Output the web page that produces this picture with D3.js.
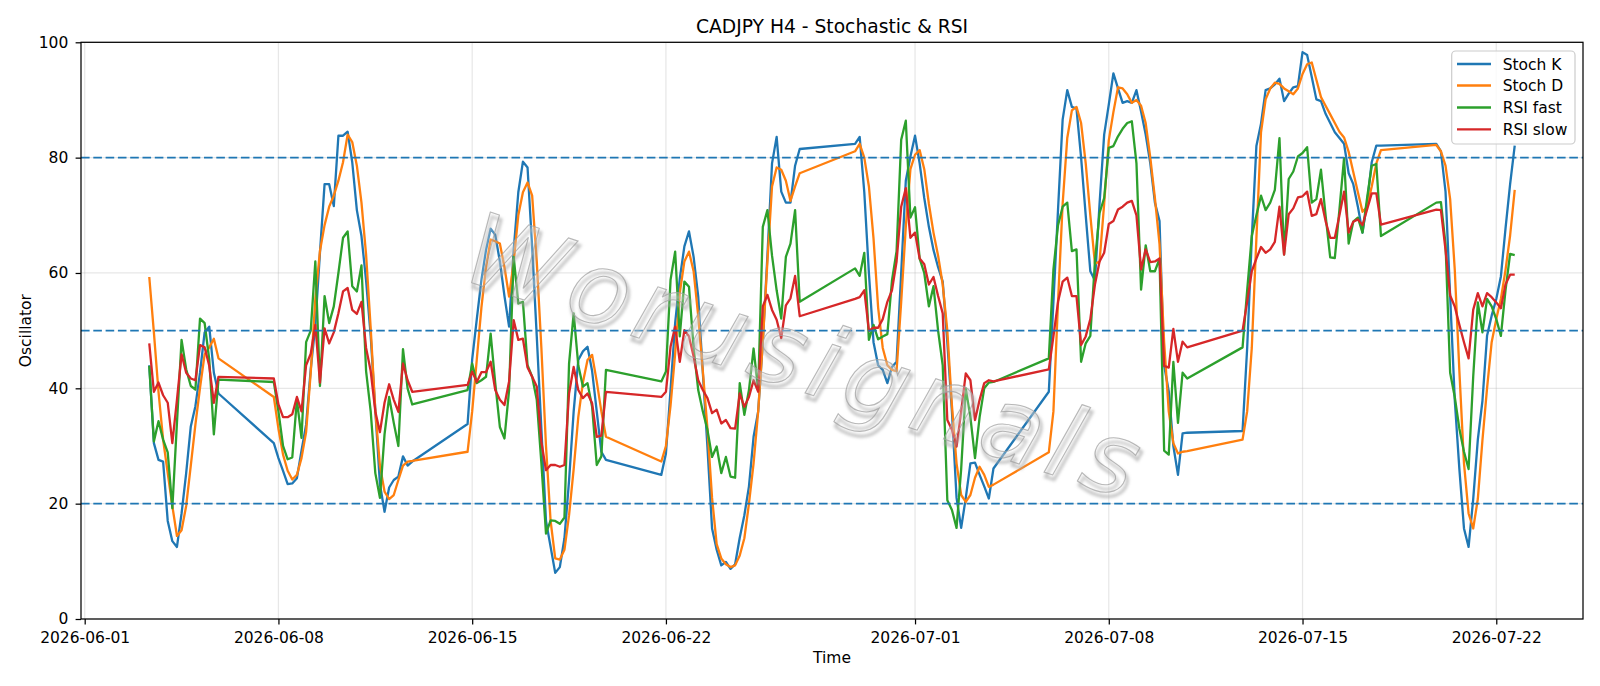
<!DOCTYPE html>
<html>
<head>
<meta charset="utf-8">
<script src="https://cdn.jsdelivr.net/npm/d3@7"></script>
<style>
  html, body { margin: 0; padding: 0; background: #fff; }
  svg { display: block; font-family: "DejaVu Sans", sans-serif; }
</style>
</head>
<body>
<script>
// H4 trading sessions: first bar of each block, number of bars (weekends skipped)
var sessions = [
    ["2026-06-03T08:00:00Z", 16],
    ["2026-06-07T20:00:00Z", 31],
    ["2026-06-14T20:00:00Z", 31],
    ["2026-06-21T20:00:00Z", 31],
    ["2026-06-28T20:00:00Z", 31],
    ["2026-07-05T20:00:00Z", 31],
    ["2026-07-12T20:00:00Z", 31],
    ["2026-07-19T20:00:00Z", 18]
];

var stochK = [
    44, 30.5, 27.6, 27.3, 17.0, 13.5, 12.5, 18.3, 25.3, 33.4, 36.9, 42.7, 49.7, 50.7, 42.7, 39.1,
    30.5, 27.9, 25.7, 23.4, 23.5, 24.4, 29.2, 33.7, 43.3, 51.0, 63.5, 75.4, 75.4, 71.6, 83.8, 83.8, 84.5, 79.2, 70.9, 66.4, 58.7, 49.1, 36.2, 23.4, 18.6, 22.8, 24.1, 24.7, 28.2, 26.6, 27.3,
    33.8, 45, 52, 58.8, 64, 67.7, 66.6, 62, 56, 50.7, 64, 74, 79.3, 78.3, 64.5, 49, 33, 17, 12.5, 8, 9, 14, 24, 36, 44.9, 46.4, 47.2, 43, 36, 29, 27.6,
    25, 28.7, 39.7, 51.3, 59, 64.6, 67.2, 62.8, 55.9, 42.7, 29.8, 15.7, 12, 9.3, 9.9, 8.7, 9.5, 14.1, 18, 23, 31.6, 36, 48, 63, 79, 83.6, 74.1, 72.2, 72.2, 78.6, 81.5,
    82.4, 83.6, 74, 60, 48, 44, 43.2, 40.9, 43.7, 44.6, 60, 76, 80.2, 83.8, 79, 73, 68, 64, 61, 58.5, 48, 36, 21, 15.8, 21, 27, 27.1, 25, 23, 20.9, 26.1,
    39.4, 55, 71, 86.6, 91.7, 88.8, 88.5, 80, 70, 60.3, 58.7, 72, 84, 89.2, 94.6, 92.0, 89.5, 89.8, 89.5, 91.7, 88, 84, 79, 72.2, 69, 44, 39.5, 30, 25, 32.2, 32.3,
    32.6, 47, 66, 82, 85.9, 91.7, 92, 92.7, 93.7, 89.8, 91.1, 92.2, 92.4, 98.3, 97.8, 94, 90.1, 89.8, 87.6, 86, 84.4, 83.4, 82.4, 77.3, 75.4, 71.5, 67, 72.2, 79.2, 82.1, 82.1,
    82.4, 81.1, 74.1, 56, 38, 26, 15.7, 12.5, 20.8, 31.1, 37.8, 49.1, 52.6, 55.5, 59.4, 67.7, 75.4, 82.1
];

var stochD = [
    59.3, 49.7, 39.4, 31.1, 25.3, 19.6, 14.4, 15.4, 19.6, 26.6, 33.7, 40.1, 45.9, 47.1, 48.6, 45.2,
    38.5, 33.0, 28.5, 25.7, 24.2, 25.0, 27.9, 32.4, 42.7, 55.5, 63.8, 68.3, 71.5, 73.4, 76.0, 79.2, 84.0, 82.7, 78.6, 72.2, 63.2, 50.4, 36.2, 26.6, 22.1, 20.8, 21.5, 24.1, 26.6, 27.3, 27.4,
    29.0, 36, 45, 54, 61, 65.8, 65.5, 65.1, 61, 55.9, 62, 70, 74, 75.7, 73.4, 62, 47, 30, 17, 10.5, 10.3, 12, 18, 26, 35, 41, 44.9, 45.8, 41.2, 36, 31.6,
    27.3, 30, 37, 46, 56.5, 62, 63.7, 60.3, 52.5, 43, 33, 21, 13, 10.5, 9.5, 9.0, 9.3, 11, 14, 20, 27, 36, 48, 62, 75, 78.3, 77.9, 76, 72.5, 75, 77.3,
    81.1, 82.4, 80, 75, 66, 54, 47, 44, 43.2, 43, 55, 68, 78, 80.5, 81.3, 78, 72, 67, 63, 58, 50, 37, 27, 21.5, 20.3, 21.5, 24.5, 26.4, 25, 22.9, 23.3,
    28.9, 36, 55, 72, 83.4, 88.2, 88.8, 86, 79, 70, 61.6, 62, 72, 83, 87.9, 92.2, 92, 91, 89.5, 90, 89, 86, 80, 73, 65, 48, 36, 30.5, 28.7, 29, 29.1,
    31.1, 36, 47, 66, 84.4, 90.1, 92, 93, 92.8, 92, 91.5, 91, 92, 94.5, 96.2, 96.5, 93.5, 90.5, 89, 87.5, 86, 84.5, 83.5, 81, 77.5, 74, 70.6, 71.5, 75, 79, 81.3,
    82.2, 81.1, 78.6, 72.8, 60.6, 43, 27, 18.3, 15.7, 20.8, 31, 40, 48, 52, 55.5, 60.5, 66.5, 74.4
];

var rsiFast = [
    43.9, 30.8, 34.3, 31.1, 28.9, 19.2, 34, 48.4, 43.3, 40.4, 39.8, 52.1, 51.3, 45, 32, 41.5,
    41.1, 36, 30, 27.7, 28, 38, 31.4, 48, 50, 62, 40.4, 56, 51.3, 54.2, 60, 66.1, 67.2, 57.7, 56.8, 61.3, 43, 36, 25.3, 21, 32, 38.5, 34, 30, 46.8, 40, 37.2,
    39.7, 44.3, 40.9, 41.4, 42, 49.5, 40.9, 33.3, 31.3, 39.7, 62.8, 54.7, 55, 44, 42, 38, 27, 14.8, 17.1, 17.0, 16.5, 17.6, 44.3, 53, 44, 40.3, 40.9, 36.8, 26.7, 28.2, 43.2,
    41.2, 42.9, 58.8, 63.7, 49, 58.5, 57.6, 47, 39.7, 36, 32.8, 28.1, 29.9, 25.3, 28.1, 24.7, 24.5, 40.9, 35.4, 39.7, 46.9, 39.7, 68, 70.9, 63, 57, 52.1, 62.8, 65.1, 70.9, 55,
    60.8, 59.5, 63.5, 48.4, 51, 48.5, 49, 49.4, 58.7, 63.8, 83.1, 86.4, 69.6, 71.4, 62.5, 60, 54.2, 57.7, 50, 44, 20.6, 18.9, 15.8, 26, 40, 35, 27.9, 35, 40, 41, 41.1,
    45.2, 60.6, 68.3, 71.5, 72.2, 63.8, 64.1, 44.6, 47.8, 49.1, 62, 70.4, 73, 81.7, 82, 83.7, 85, 86, 86.3, 79, 57.1, 64.8, 60.3, 60.3, 62.5, 29.2, 28.5, 44.6, 34, 42.7, 41.7,
    47.1, 57, 66.4, 70, 73.4, 70.9, 72.2, 74.4, 83.4, 63.2, 76.3, 77.6, 80.2, 80.8, 81.8, 72.2, 72.8, 77.9, 70, 62.7, 62.6, 71, 79.9, 65.1, 68.9, 69.6, 67, 73, 78.6, 78.9, 66.4,
    72.2, 72.3, 65, 42.7, 38.5, 33, 29, 26, 42, 54.9, 49.7, 55.5, 54.2, 52, 49.1, 57, 63.3, 63.1
];

var rsiSlow = [
    47.8, 39.4, 41.0, 38.8, 37.5, 30.5, 38, 45.9, 42.7, 41.7, 41.4, 47.5, 47.1, 43.9, 37.5, 42.0,
    41.7, 37.2, 35, 35, 35.5, 38.5, 36, 44, 46, 51, 41, 50.4, 47.8, 49.7, 53, 56.8, 57.4, 53.6, 52.9, 55, 47, 43, 36, 32.4, 37.5, 40.7, 38, 35.9, 44.3, 41.4, 39.4,
    40.6, 42.9, 41.1, 42.8, 42.8, 44.6, 39.7, 38, 37.1, 41.2, 51.8, 48.4, 48.6, 43.6, 42, 40.3, 30.7, 25.8, 26.7, 26.7, 26.4, 26.7, 39.1, 43.7, 39.7, 38.3, 39.1, 37.4, 31.6, 31.8, 39.4,
    38.5, 39.4, 47.2, 50.7, 44.6, 50.1, 49, 45.5, 41.4, 39.7, 38.3, 35.7, 36.3, 33.9, 34.5, 33.1, 33, 39.1, 36.8, 38.5, 41.4, 39.4, 54.2, 56.2, 53.6, 51.9, 48.7, 54.4, 55.6, 59.5, 52.5,
    55.5, 55.8, 57, 50, 50.5, 50.5, 52, 55, 57, 62, 71.5, 74.7, 66.1, 67, 62.5, 61.5, 58, 59.3, 56, 53, 34.5, 32.8, 29.9, 36, 42.6, 41.4, 34.5, 38, 40.9, 41.4, 41.2,
    43.3, 49, 55, 58.5, 59.2, 56, 56, 47.5, 49, 52, 58, 62, 63.5, 68.5, 69, 71, 71.5, 72.2, 72.5, 70, 60.6, 64.1, 61.9, 62, 62.5, 43.9, 43.6, 50.3, 44.6, 48.1, 47.1,
    50.0, 55, 60.3, 62.5, 64.5, 63.5, 64.1, 65.4, 71.5, 63.2, 70.2, 71.2, 73.1, 73.3, 74.1, 69.9, 70.2, 72.8, 69, 66.1, 66.1, 70, 74.1, 67, 68.9, 69.3, 68.3, 71, 73.8, 73.8, 68.4,
    71.0, 70.9, 64, 56.1, 54.2, 51, 48, 45.2, 53.6, 56.5, 54.2, 56.5, 55.8, 54.9, 53.9, 58, 59.7, 59.7
];

var seriesNames = ["Stoch K", "Stoch D", "RSI fast", "RSI slow"];
var seriesColors = ["#1f77b4", "#ff7f0e", "#2ca02c", "#d62728"];
var levels = [20, 50, 80];
var xTickDates = ["2026-06-01", "2026-06-08", "2026-06-15", "2026-06-22", "2026-07-01", "2026-07-08", "2026-07-15", "2026-07-22"];
var yTicks = [0, 20, 40, 60, 80, 100];

// build bar times
var times = [];
sessions.forEach(function(s){
    var start = new Date(s[0]);
    for (var i = 0; i < s[1]; i++) times.push(d3.utcHour.offset(start, 4 * i));
});

var W = 1600, H = 686;
var plot = {left: 81, right: 1583, top: 42.3, bottom: 619};

var svg = d3.select("body").append("svg")
    .attr("width", W)
    .attr("height", H);

svg.append("rect").attr("width", W).attr("height", H).attr("fill", "#fff");

var defs = svg.append("defs");
defs.append("filter").attr("id", "soft")
    .append("feGaussianBlur").attr("stdDeviation", 1.6);

var t0 = times[0], t1 = times[times.length - 1];
var pad = (t1 - t0) * 0.05;
var x = d3.scaleUtc()
    .domain([new Date(+t0 - pad), new Date(+t1 + pad)])
    .range([plot.left, plot.right]);
var y = d3.scaleLinear()
    .domain([0, 100])
    .range([plot.bottom, plot.top]);

var xTicks = xTickDates.map(function(d){ return new Date(d + "T00:00:00Z"); });

// grid
var grid = svg.append("g").attr("stroke", "#b0b0b0").attr("stroke-opacity", 0.3).attr("stroke-width", 1.24);
grid.selectAll(".gx").data(xTicks).enter().append("line")
    .attr("x1", function(d){ return x(d); }).attr("x2", function(d){ return x(d); })
    .attr("y1", plot.top).attr("y2", plot.bottom);
grid.selectAll(".gy").data(yTicks).enter().append("line")
    .attr("x1", plot.left).attr("x2", plot.right)
    .attr("y1", function(d){ return y(d); }).attr("y2", function(d){ return y(d); });

// series
var allSeries = [stochK, stochD, rsiFast, rsiSlow];
var line = d3.line()
    .x(function(d){ return x(d.t); })
    .y(function(d){ return y(d.v); });

allSeries.forEach(function(vals, i){
    var pts = [];
    for (var j = 0; j < times.length && j < vals.length; j++) pts.push({t: times[j], v: vals[j]});
    svg.append("path")
        .datum(pts)
        .attr("fill", "none")
        .attr("stroke", seriesColors[i])
        .attr("stroke-width", 2.3)
        .attr("stroke-linejoin", "round")
        .attr("d", line);
});

// overbought / oversold levels
svg.selectAll(".lvl").data(levels).enter().append("line")
    .attr("x1", plot.left).attr("x2", plot.right)
    .attr("y1", function(d){ return y(d); }).attr("y2", function(d){ return y(d); })
    .attr("stroke", "#1f77b4")
    .attr("stroke-width", 1.9)
    .attr("stroke-dasharray", "8.6,3.7");

// watermark
var wm = svg.append("g")
    .attr("transform", "translate(796,390) rotate(18.3)")
    .attr("font-family", "DejaVu Sans")
    .attr("font-style", "italic")
    .attr("font-size", "100px")
    .attr("letter-spacing", "9px")
    .attr("text-anchor", "middle");
wm.append("text")
    .attr("x", 3).attr("y", 4)
    .attr("fill", "none")
    .attr("stroke", "#a8a8a8")
    .attr("stroke-width", 3)
    .attr("stroke-opacity", 0.7)
    .attr("filter", "url(#soft)")
    .text("Worusignals");
wm.append("text")
    .attr("fill", "#ffffff")
    .attr("fill-opacity", 0.2)
    .attr("stroke", "#a0a0a0")
    .attr("stroke-width", 1.1)
    .attr("stroke-opacity", 0.75)
    .text("Worusignals");

// axes
var xAxis = d3.axisBottom(x).tickValues(xTicks).tickFormat(d3.utcFormat("%Y-%m-%d"))
    .tickSize(5.4).tickPadding(7.3).tickSizeOuter(0);
var yAxis = d3.axisLeft(y).tickValues(yTicks)
    .tickSize(5.4).tickPadding(7.3).tickSizeOuter(0);

var xg = svg.append("g").attr("transform", "translate(0," + plot.bottom + ")").call(xAxis);
var yg = svg.append("g").attr("transform", "translate(" + plot.left + ",0)").call(yAxis);
[xg, yg].forEach(function(g){
    g.select(".domain").remove();
    g.selectAll("line").attr("stroke", "#000").attr("stroke-width", 1.24);
    g.selectAll("text").attr("fill", "#000").attr("font-size", "15.5px").attr("font-family", "DejaVu Sans");
});

// frame
svg.append("rect")
    .attr("x", plot.left).attr("y", plot.top)
    .attr("width", plot.right - plot.left).attr("height", plot.bottom - plot.top)
    .attr("fill", "none").attr("stroke", "#000").attr("stroke-width", 1.24);

// title and labels
svg.append("text")
    .attr("x", (plot.left + plot.right) / 2).attr("y", 33.3)
    .attr("text-anchor", "middle").attr("font-size", "18.7px").attr("fill", "#000")
    .text("CADJPY H4 - Stochastic & RSI");
svg.append("text")
    .attr("x", (plot.left + plot.right) / 2).attr("y", 662.9)
    .attr("text-anchor", "middle").attr("font-size", "15.5px").attr("fill", "#000")
    .text("Time");
svg.append("text")
    .attr("transform", "translate(31.2," + ((plot.top + plot.bottom) / 2) + ") rotate(-90)")
    .attr("text-anchor", "middle").attr("font-size", "15.5px").attr("fill", "#000")
    .text("Oscillator");

// legend
var lg = svg.append("g");
lg.append("rect")
    .attr("x", 1451.7).attr("y", 51).attr("width", 123.3).attr("height", 93)
    .attr("rx", 4).attr("fill", "#fff").attr("fill-opacity", 0.8)
    .attr("stroke", "#cccccc").attr("stroke-width", 1.2);
var rowsY = [64, 85.5, 107.5, 129.3];
seriesNames.forEach(function(name, i){
    lg.append("line")
        .attr("x1", 1457).attr("x2", 1491)
        .attr("y1", rowsY[i]).attr("y2", rowsY[i])
        .attr("stroke", seriesColors[i]).attr("stroke-width", 2.3);
    lg.append("text")
        .attr("x", 1502.7).attr("y", rowsY[i] + 5.6)
        .attr("font-size", "15.5px").attr("fill", "#000")
        .text(name);
});
</script>
</body>
</html>
